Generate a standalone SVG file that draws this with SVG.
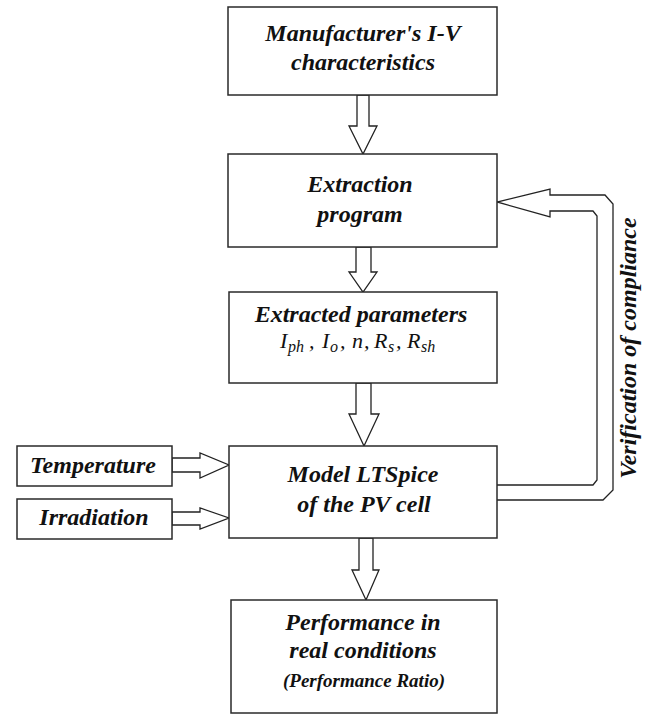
<svg xmlns="http://www.w3.org/2000/svg" width="651" height="715" viewBox="0 0 651 715">
<style>
.box{fill:#fff;stroke:#2a2a2a;stroke-width:1.5}
.arr{fill:#fff;stroke:#222;stroke-width:1.3;stroke-linejoin:miter}
.t{font-family:"Liberation Serif","Times New Roman",serif;font-weight:bold;font-style:italic;font-size:24px;fill:#111;text-anchor:middle}
.s{font-size:19px}
.m{font-family:"Liberation Serif","Times New Roman",serif;font-style:italic;font-size:22px;fill:#111}
.sub{font-size:16px}
</style>
<rect width="651" height="715" fill="#fff"/>
<g id="connectors">
<polygon class="arr" points="357,95 369,95 369,126 377,126 363,154 349,126 357,126"/>
<polygon class="arr" points="356,247 371,247 371,272 377,272 363,292 349,272 356,272"/>
<polygon class="arr" points="356,383 371,383 371,414 379,414 364,446 349,414 356,414"/>
<polygon class="arr" points="359,538 373,538 373,570 379,570 366,600 352,570 359,570"/>
<polygon class="arr" points="172,458 200,458 200,453 229,465 200,478 200,472 172,472"/>
<polygon class="arr" points="172,512 200,512 200,508 229,518 200,529 200,525 172,525"/>
<polygon class="arr" points="496,485 593,485 597,480 597,216 593,211 550,211 550,217 497,202 550,189 550,195 605,195 613,204 613,490 603,500 496,500"/>
</g>
<g id="n1">
<rect class="box" x="228" y="7" width="269" height="88"/>
<text class="t" x="363" y="41">Manufacturer's I-V</text>
<text class="t" x="363" y="70">characteristics</text>
</g>
<g id="n2">
<rect class="box" x="228" y="154" width="269" height="93"/>
<text class="t" x="360" y="192">Extraction</text>
<text class="t" x="360" y="222">program</text>
</g>
<g id="n3">
<rect class="box" x="229" y="292" width="268" height="91"/>
<text class="t" x="361" y="322">Extracted parameters</text>
<text class="m" y="348"><tspan x="280">I</tspan><tspan class="sub" x="288" dy="4">ph</tspan><tspan x="309" dy="-4">,</tspan><tspan x="322">I</tspan><tspan class="sub" x="330" dy="4">o</tspan><tspan x="340" dy="-4">,</tspan><tspan x="352">n</tspan><tspan x="364">,</tspan><tspan x="374">R</tspan><tspan class="sub" x="388" dy="4">s</tspan><tspan x="396" dy="-4">,</tspan><tspan x="407">R</tspan><tspan class="sub" x="421" dy="4">sh</tspan></text>
</g>
<g id="n4">
<rect class="box" x="229" y="446" width="268" height="92"/>
<text class="t" x="363" y="482">Model LTSpice</text>
<text class="t" x="364" y="512">of the PV cell</text>
</g>
<g id="n5">
<rect class="box" x="231" y="600" width="266" height="113"/>
<text class="t" x="363" y="630">Performance in</text>
<text class="t" x="363" y="658">real conditions</text>
<text class="t s" x="364" y="687">(Performance Ratio)</text>
</g>
<g id="temp">
<rect class="box" x="17" y="446" width="155" height="40"/>
<text class="t" x="93" y="473">Temperature</text>
</g>
<g id="irr">
<rect class="box" x="17" y="499" width="155" height="40"/>
<text class="t" x="94" y="525">Irradiation</text>
</g>
<g id="label">
<text class="t" transform="translate(636,348) rotate(-90)" x="0" y="0">Verification of compliance</text>
</g>
</svg>
